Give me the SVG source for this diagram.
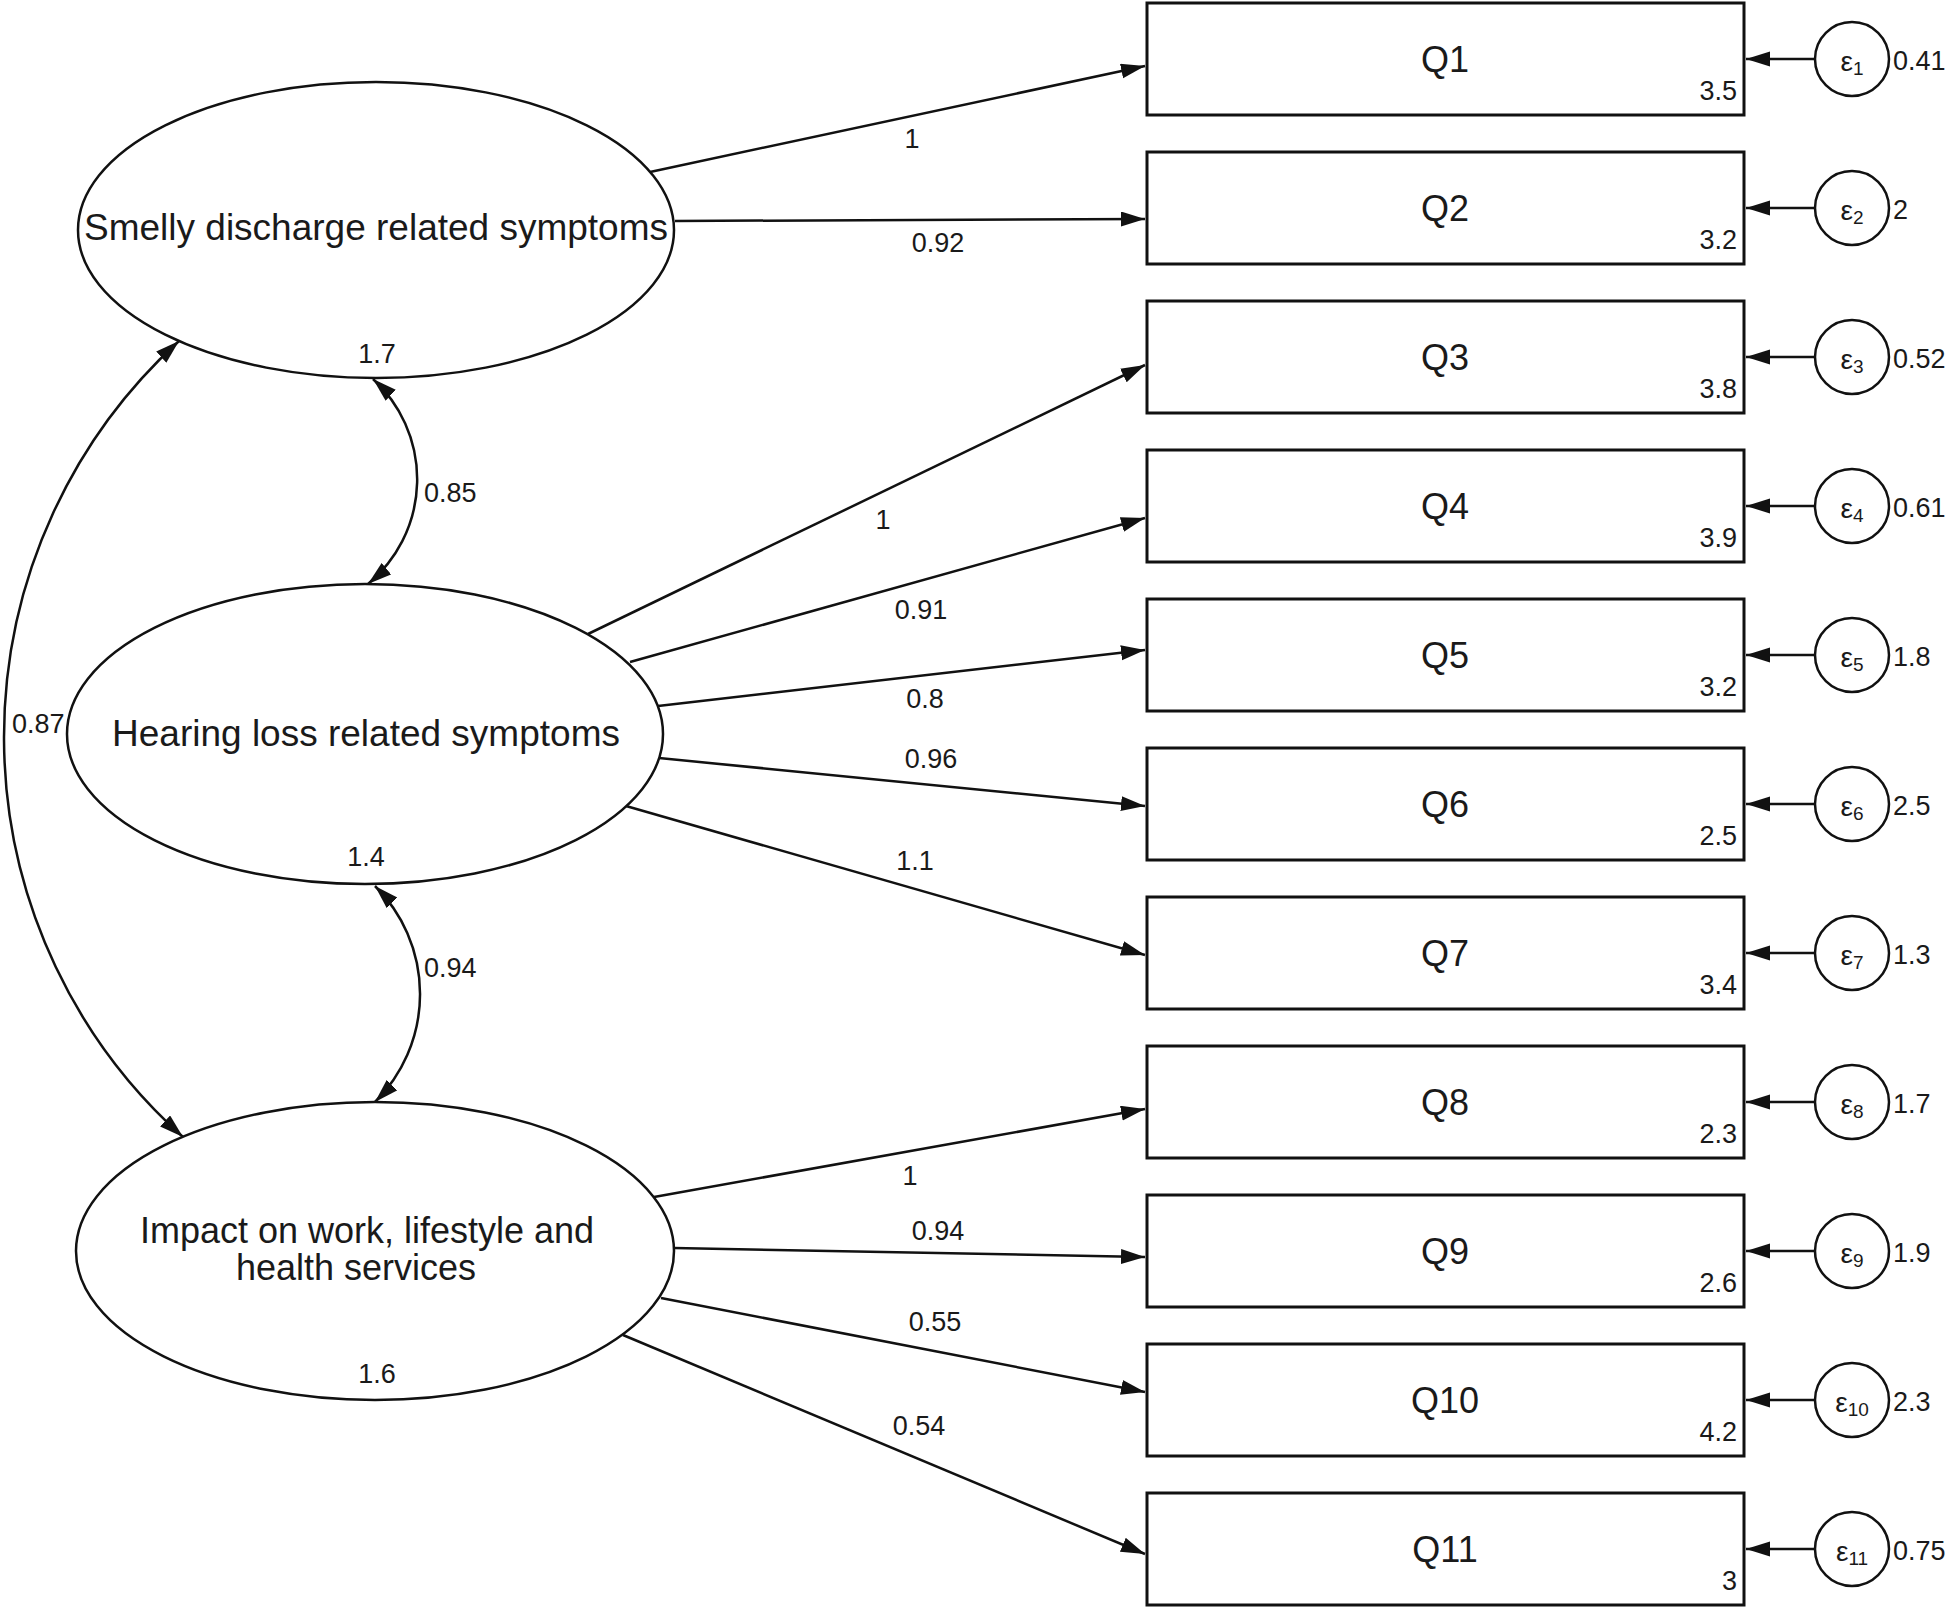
<svg xmlns="http://www.w3.org/2000/svg" width="1960" height="1608" viewBox="0 0 1960 1608">
<style>
text{font-family:"Liberation Sans",Arial,sans-serif;fill:#1a1a1a}
.lat{fill:#fff;stroke:#111;stroke-width:2.5}
.box{fill:#fff;stroke:#111;stroke-width:3}
.err{fill:#fff;stroke:#111;stroke-width:2.5}
.lbl{font-size:37px;text-anchor:middle}
.lbl2{font-size:36px;text-anchor:middle}
.q{font-size:36px;text-anchor:middle}
.num{font-size:27px}
.mid{text-anchor:middle}
.end{text-anchor:end}
.eps{font-size:28px;text-anchor:middle}
.path{fill:none;stroke:#111;stroke-width:2.5;marker-end:url(#ah)}
.cov{fill:none;stroke:#111;stroke-width:2.5;marker-start:url(#ah);marker-end:url(#ah)}
</style>
<defs>
<marker id="ah" markerUnits="userSpaceOnUse" markerWidth="26" markerHeight="16" refX="24" refY="7.5" orient="auto-start-reverse">
<path d="M0,0 L24,7.5 L0,15 z" fill="#111"/>
</marker>
</defs>
<rect width="1960" height="1608" fill="#fff"/>

<g id="connectors">
<line class="path" x1="650" y1="172" x2="1145" y2="66"/>
<line class="path" x1="675" y1="221" x2="1145" y2="219"/>
<line class="path" x1="588" y1="634" x2="1145" y2="365"/>
<line class="path" x1="630" y1="662" x2="1145" y2="518"/>
<line class="path" x1="658" y1="706" x2="1145" y2="650"/>
<line class="path" x1="659" y1="758" x2="1145" y2="806"/>
<line class="path" x1="626" y1="806" x2="1145" y2="955"/>
<line class="path" x1="654" y1="1197" x2="1145" y2="1109"/>
<line class="path" x1="674" y1="1248" x2="1145" y2="1257"/>
<line class="path" x1="661" y1="1298" x2="1145" y2="1392"/>
<line class="path" x1="623" y1="1335" x2="1145" y2="1554"/>
<path class="cov" d="M373,379 A136,136 0 0,1 368,584"/>
<path class="cov" d="M375,886 A152,152 0 0,1 375,1102"/>
<path class="cov" d="M179,341 A536,536 0 0,0 183,1137"/>
<line class="path" x1="1815" y1="59" x2="1746" y2="59"/>
<line class="path" x1="1815" y1="208" x2="1746" y2="208"/>
<line class="path" x1="1815" y1="357" x2="1746" y2="357"/>
<line class="path" x1="1815" y1="506" x2="1746" y2="506"/>
<line class="path" x1="1815" y1="655" x2="1746" y2="655"/>
<line class="path" x1="1815" y1="804" x2="1746" y2="804"/>
<line class="path" x1="1815" y1="953" x2="1746" y2="953"/>
<line class="path" x1="1815" y1="1102" x2="1746" y2="1102"/>
<line class="path" x1="1815" y1="1251" x2="1746" y2="1251"/>
<line class="path" x1="1815" y1="1400" x2="1746" y2="1400"/>
<line class="path" x1="1815" y1="1549" x2="1746" y2="1549"/>
<g class="num">
<text class="mid" x="912" y="148">1</text>
<text class="mid" x="938" y="252">0.92</text>
<text class="mid" x="883" y="529">1</text>
<text class="mid" x="921" y="619">0.91</text>
<text class="mid" x="925" y="708">0.8</text>
<text class="mid" x="931" y="768">0.96</text>
<text class="mid" x="915" y="870">1.1</text>
<text class="mid" x="910" y="1185">1</text>
<text class="mid" x="938" y="1240">0.94</text>
<text class="mid" x="935" y="1331">0.55</text>
<text class="mid" x="919" y="1435">0.54</text>
<text x="424" y="502">0.85</text>
<text x="424" y="977">0.94</text>
<text x="12" y="733">0.87</text>
</g>
</g>

<g id="F1">
<ellipse class="lat" cx="376" cy="230" rx="298" ry="148"/>
<text class="lbl" x="376" y="240">Smelly discharge related symptoms</text>
<text class="num mid" x="377" y="363">1.7</text>
</g>
<g id="F2">
<ellipse class="lat" cx="365" cy="734" rx="298" ry="150"/>
<text class="lbl" x="366" y="746">Hearing loss related symptoms</text>
<text class="num mid" x="366" y="866">1.4</text>
</g>
<g id="F3">
<ellipse class="lat" cx="375" cy="1251" rx="299" ry="149"/>
<text class="lbl2" x="367" y="1243">Impact on work, lifestyle and</text>
<text class="lbl2" x="356" y="1280">health services</text>
<text class="num mid" x="377" y="1383">1.6</text>
</g>

<g id="Q1"><rect class="box" x="1147" y="3" width="597" height="112"/><text class="q" x="1445" y="72">Q1</text><text class="num end" x="1737" y="100">3.5</text></g>
<g id="Q2"><rect class="box" x="1147" y="152" width="597" height="112"/><text class="q" x="1445" y="221">Q2</text><text class="num end" x="1737" y="249">3.2</text></g>
<g id="Q3"><rect class="box" x="1147" y="301" width="597" height="112"/><text class="q" x="1445" y="370">Q3</text><text class="num end" x="1737" y="398">3.8</text></g>
<g id="Q4"><rect class="box" x="1147" y="450" width="597" height="112"/><text class="q" x="1445" y="519">Q4</text><text class="num end" x="1737" y="547">3.9</text></g>
<g id="Q5"><rect class="box" x="1147" y="599" width="597" height="112"/><text class="q" x="1445" y="668">Q5</text><text class="num end" x="1737" y="696">3.2</text></g>
<g id="Q6"><rect class="box" x="1147" y="748" width="597" height="112"/><text class="q" x="1445" y="817">Q6</text><text class="num end" x="1737" y="845">2.5</text></g>
<g id="Q7"><rect class="box" x="1147" y="897" width="597" height="112"/><text class="q" x="1445" y="966">Q7</text><text class="num end" x="1737" y="994">3.4</text></g>
<g id="Q8"><rect class="box" x="1147" y="1046" width="597" height="112"/><text class="q" x="1445" y="1115">Q8</text><text class="num end" x="1737" y="1143">2.3</text></g>
<g id="Q9"><rect class="box" x="1147" y="1195" width="597" height="112"/><text class="q" x="1445" y="1264">Q9</text><text class="num end" x="1737" y="1292">2.6</text></g>
<g id="Q10"><rect class="box" x="1147" y="1344" width="597" height="112"/><text class="q" x="1445" y="1413">Q10</text><text class="num end" x="1737" y="1441">4.2</text></g>
<g id="Q11"><rect class="box" x="1147" y="1493" width="597" height="112"/><text class="q" x="1445" y="1562">Q11</text><text class="num end" x="1737" y="1590">3</text></g>

<g id="e1"><circle class="err" cx="1852" cy="59" r="37"/><text class="eps" x="1852" y="71">ε<tspan font-size="19" dy="4">1</tspan></text><text class="num" x="1893" y="70">0.41</text></g>
<g id="e2"><circle class="err" cx="1852" cy="208" r="37"/><text class="eps" x="1852" y="220">ε<tspan font-size="19" dy="4">2</tspan></text><text class="num" x="1893" y="219">2</text></g>
<g id="e3"><circle class="err" cx="1852" cy="357" r="37"/><text class="eps" x="1852" y="369">ε<tspan font-size="19" dy="4">3</tspan></text><text class="num" x="1893" y="368">0.52</text></g>
<g id="e4"><circle class="err" cx="1852" cy="506" r="37"/><text class="eps" x="1852" y="518">ε<tspan font-size="19" dy="4">4</tspan></text><text class="num" x="1893" y="517">0.61</text></g>
<g id="e5"><circle class="err" cx="1852" cy="655" r="37"/><text class="eps" x="1852" y="667">ε<tspan font-size="19" dy="4">5</tspan></text><text class="num" x="1893" y="666">1.8</text></g>
<g id="e6"><circle class="err" cx="1852" cy="804" r="37"/><text class="eps" x="1852" y="816">ε<tspan font-size="19" dy="4">6</tspan></text><text class="num" x="1893" y="815">2.5</text></g>
<g id="e7"><circle class="err" cx="1852" cy="953" r="37"/><text class="eps" x="1852" y="965">ε<tspan font-size="19" dy="4">7</tspan></text><text class="num" x="1893" y="964">1.3</text></g>
<g id="e8"><circle class="err" cx="1852" cy="1102" r="37"/><text class="eps" x="1852" y="1114">ε<tspan font-size="19" dy="4">8</tspan></text><text class="num" x="1893" y="1113">1.7</text></g>
<g id="e9"><circle class="err" cx="1852" cy="1251" r="37"/><text class="eps" x="1852" y="1263">ε<tspan font-size="19" dy="4">9</tspan></text><text class="num" x="1893" y="1262">1.9</text></g>
<g id="e10"><circle class="err" cx="1852" cy="1400" r="37"/><text class="eps" x="1852" y="1412">ε<tspan font-size="19" dy="4">10</tspan></text><text class="num" x="1893" y="1411">2.3</text></g>
<g id="e11"><circle class="err" cx="1852" cy="1549" r="37"/><text class="eps" x="1852" y="1561">ε<tspan font-size="19" dy="4">11</tspan></text><text class="num" x="1893" y="1560">0.75</text></g>
</svg>
